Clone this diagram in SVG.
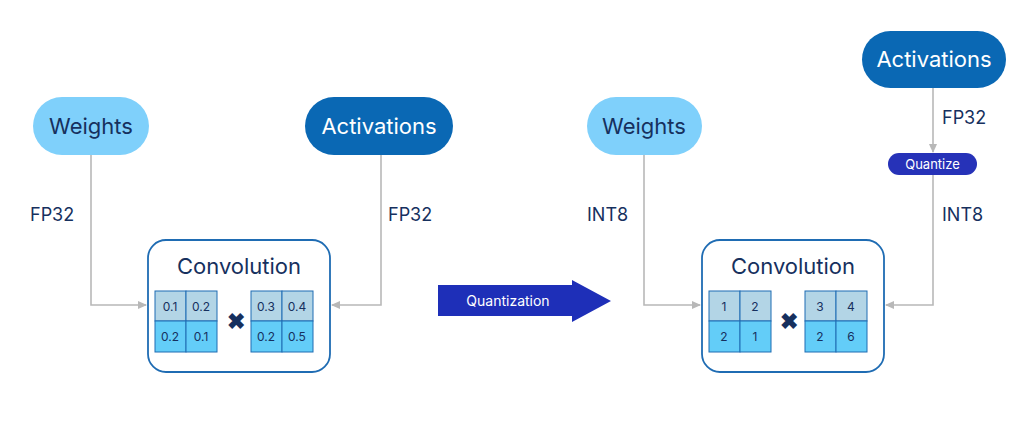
<svg xmlns="http://www.w3.org/2000/svg" width="1024" height="438" viewBox="0 0 1024 438">
<style>
text{font-family:"Inter","Liberation Sans",sans-serif}
.lw{fill:#7fd0fb}.ac{fill:#0a68b4}
.pt{font-size:22px;fill:#16305e;text-anchor:middle}
.pw{font-size:22px;fill:#fff;text-anchor:middle}
.lb{font-size:18px;fill:#16305e}
.box{fill:#fff;stroke:#1f6cb3;stroke-width:1.8}
.t{fill:#b3d5e6;stroke:#1f6cb3;stroke-width:1}
.b{fill:#63cdf8;stroke:#1f6cb3;stroke-width:1}
.c{font-size:12px;fill:#16305e;text-anchor:middle}
.x{font-size:22px;font-weight:bold;fill:#16305e;text-anchor:middle}
.ln{fill:none;stroke:#b8b8b8;stroke-width:1.6}
</style>
<defs><marker id="ar" markerWidth="10" markerHeight="10" refX="8" refY="5" orient="auto" markerUnits="userSpaceOnUse"><path d="M0,1 L9,5 L0,9 Z" fill="#b8b8b8"/></marker></defs>
<rect width="1024" height="438" fill="#fff"/>
<g id="connectors">
<path class="ln" d="M91,155 V305 H146" marker-end="url(#ar)"/>
<path class="ln" d="M381,155 V305 H332" marker-end="url(#ar)"/>
<path class="ln" d="M644,155 V305 H700" marker-end="url(#ar)"/>
<path class="ln" d="M933,88 V152" marker-end="url(#ar)"/>
<path class="ln" d="M933,175 V305 H886" marker-end="url(#ar)"/>
<text class="lb" x="30" y="221">FP32</text>
<text class="lb" x="388" y="221">FP32</text>
<text class="lb" x="587" y="221">INT8</text>
<text class="lb" x="942" y="124">FP32</text>
<text class="lb" x="942" y="221">INT8</text>
</g>
<g id="weights1"><rect class="lw" x="33" y="97" width="116" height="58" rx="29"/><text class="pt" x="91" y="134">Weights</text></g>
<g id="activations1"><rect class="ac" x="305" y="97" width="148" height="58" rx="29"/><text class="pw" x="379" y="134">Activations</text></g>
<g id="weights2"><rect class="lw" x="587" y="97" width="115" height="58" rx="29"/><text class="pt" x="644" y="134">Weights</text></g>
<g id="activations2"><rect class="ac" x="862" y="31" width="144" height="57" rx="28.5"/><text class="pw" x="934" y="67">Activations</text></g>
<g id="quantize"><rect x="888" y="153" width="89" height="22" rx="11" fill="#2632b8"/><text x="932.5" y="169" font-size="13" fill="#fff" text-anchor="middle">Quantize</text></g>
<g id="quantization"><path d="M438,285 H572 V280 L611,301 L572,322 V316 H438 Z" fill="#1e2fb8"/><text x="508" y="306" font-size="14" fill="#fff" text-anchor="middle">Quantization</text></g>
<g id="conv1">
<rect class="box" x="148" y="240" width="182" height="132" rx="18"/>
<text class="pt" x="239" y="274">Convolution</text>
<rect class="t" x="155" y="291" width="31" height="30"/><rect class="t" x="186" y="291" width="31" height="30"/>
<rect class="b" x="155" y="321" width="31" height="31"/><rect class="b" x="186" y="321" width="31" height="31"/>
<text class="c" x="170" y="311">0.1</text><text class="c" x="201" y="311">0.2</text><text class="c" x="170" y="341">0.2</text><text class="c" x="201" y="341">0.1</text>
<text class="x" x="236" y="329">✖</text>
<rect class="t" x="251" y="291" width="31" height="30"/><rect class="t" x="282" y="291" width="31" height="30"/>
<rect class="b" x="251" y="321" width="31" height="31"/><rect class="b" x="282" y="321" width="31" height="31"/>
<text class="c" x="266" y="311">0.3</text><text class="c" x="297" y="311">0.4</text><text class="c" x="266" y="341">0.2</text><text class="c" x="297" y="341">0.5</text>
</g>
<g id="conv2">
<rect class="box" x="702" y="240" width="182" height="132" rx="18"/>
<text class="pt" x="793" y="274">Convolution</text>
<rect class="t" x="709" y="291" width="31" height="30"/><rect class="t" x="740" y="291" width="31" height="30"/>
<rect class="b" x="709" y="321" width="31" height="31"/><rect class="b" x="740" y="321" width="31" height="31"/>
<text class="c" x="724" y="311">1</text><text class="c" x="755" y="311">2</text><text class="c" x="724" y="341">2</text><text class="c" x="755" y="341">1</text>
<text class="x" x="789" y="329">✖</text>
<rect class="t" x="805" y="291" width="31" height="30"/><rect class="t" x="836" y="291" width="31" height="30"/>
<rect class="b" x="805" y="321" width="31" height="31"/><rect class="b" x="836" y="321" width="31" height="31"/>
<text class="c" x="820" y="311">3</text><text class="c" x="851" y="311">4</text><text class="c" x="820" y="341">2</text><text class="c" x="851" y="341">6</text>
</g>
</svg>
